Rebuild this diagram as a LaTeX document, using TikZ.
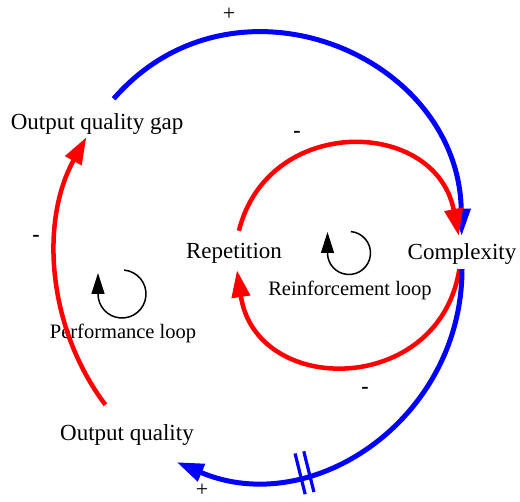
\documentclass[tikz,border=0pt]{standalone}
\usepackage{fontspec}
\setmainfont{Liberation Serif}
\usetikzlibrary{arrows.meta,decorations.markings}

\begin{document}
\begin{tikzpicture}[
        x=1pt, y=1pt,
        var/.style={inner xsep=2pt, inner ysep=0pt, font=\fontsize{23}{27}\selectfont},
        looplabel/.style={inner sep=0pt, font=\fontsize{20.5}{24}\selectfont},
        sign/.style={inner sep=0pt, font=\fontsize{22}{26}\selectfont},
        link/.style={-{Triangle[length=27pt, width=18pt]}, line width=4.5pt},
        poslink/.style={link, blue, line width=5pt},
        neglink/.style={link, red},
        loopsym/.style={line width=1.5pt, -{Triangle[length=21pt, width=13pt]}},
        delaymark/.style={postaction={decorate}, decoration={markings, mark=at position #1 with {\draw[-, blue, line width=3.2pt] (-4.5pt,-21pt) -- (-4.5pt,21pt) (4.5pt,-21pt) -- (4.5pt,21pt);}}}
    ]
        \useasboundingbox (0,0) rectangle (520,502);

        \node[var, text height=31pt, text depth=7pt] (gap) at (97,384) {Output quality gap};
        \node[var, text height=23.5pt, text depth=9.5pt] (cmplx) at (462,249.5) {Complexity};
        \node[var, text height=28pt, text depth=11pt] (rep) at (234,251.5) {Repetition};
        \node[var, text height=36pt, text depth=21pt] (oq) at (127,68.5) {Output quality};

        \node[looplabel] (perflabel) at (123,169) {Performance loop};
        \node[looplabel] (reinflabel) at (350,212) {Reinforcement loop};
        \coordinate (perf) at (122,208);
        \coordinate (reinf) at (349,249);

        \draw[poslink] (gap) to[out=49, in=91, looseness=1.25] (cmplx);
        \draw[neglink] (rep) to[out=76, in=101, looseness=1.4] (cmplx);
        \draw[neglink] (cmplx) to[out=-99, in=-81.5, looseness=1.48] (rep);
        \draw[poslink, delaymark=0.68] (cmplx.south) to[out=-90, in=-23, looseness=1.1] (oq.-30);
        \draw[neglink] (oq) to[out=127, in=241, looseness=0.92] (gap);

        \draw[loopsym] (perf) ++(85:24pt) arc[start angle=85, end angle=-180, radius=24pt] -- ++(0,21);
        \draw[loopsym] (reinf) ++(85:21.5pt) arc[start angle=85, end angle=-180, radius=21.5pt] -- ++(0,21);

        \node[sign] (plustop) at (229,488) {+};
        \node[sign] (minustop) at (297,368) {\textbf{-}};
        \node[sign] (minusleft) at (36,264) {\textbf{-}};
        \node[sign] (minusbottom) at (365,112) {\textbf{-}};
        \node[sign] (plusbottom) at (202,12) {+};
    \end{tikzpicture}
\end{document}
